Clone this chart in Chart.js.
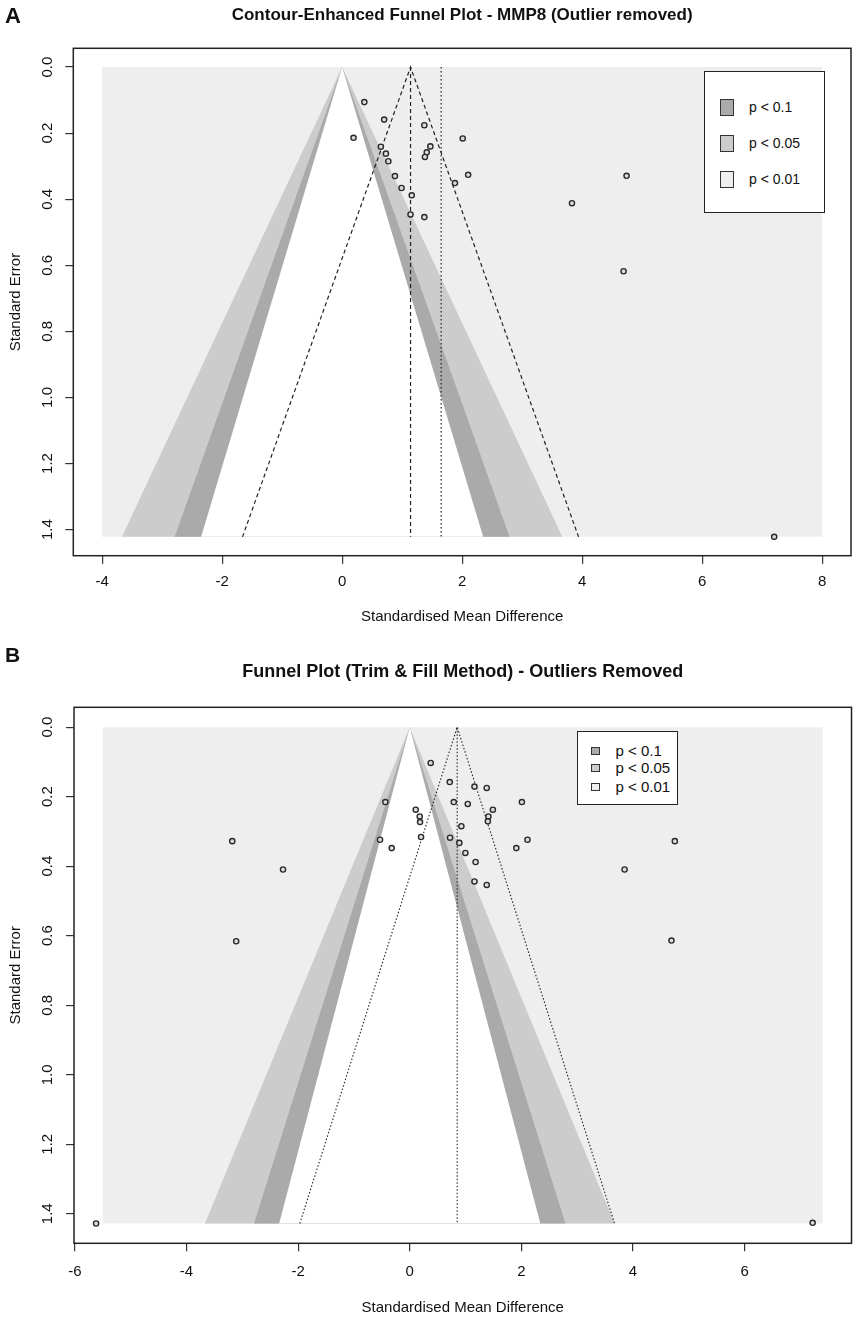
<!DOCTYPE html>
<html>
<head>
<meta charset="utf-8">
<script src="https://cdn.jsdelivr.net/npm/chart.js@4.4.1/dist/chart.umd.min.js"></script>
<style>
  html, body { margin: 0; padding: 0; background: #fff; }
  #page { position: relative; width: 858px; height: 1323px; font-family: "Liberation Sans", Arial, Helvetica, sans-serif; color: #111; }
  .wrap { position: absolute; left: 0; width: 858px; }
  .panel { position: absolute; font-weight: bold; line-height: 1; }
  .legend { position: absolute; box-sizing: border-box; border: 1.5px solid #222; background: #fff; }
  .legend .row { position: absolute; left: 0; right: 0; white-space: nowrap; }
  .legend .sw { position: absolute; box-sizing: border-box; border: 1px solid #333; }
  .legend .lab { position: absolute; }
</style>
</head>
<body>
<div id="page">
  <div class="wrap" style="top:0;height:640px"><canvas id="chartA"></canvas></div>
  <div class="wrap" style="top:640px;height:683px"><canvas id="chartB"></canvas></div>
  <div class="panel" style="left:5px;top:5px;font-size:22px">A</div>
  <div class="panel" style="left:5px;top:644px;font-size:21px">B</div>
  <div class="legend" id="legendA" style="left:704px;top:71px;width:121px;height:142px"></div>
  <div class="legend" id="legendB" style="left:577px;top:731px;width:101px;height:74px"></div>
</div>
<script>
  const family = '"Liberation Sans", Arial, Helvetica, sans-serif';
  Chart.defaults.font.family = family;
  Chart.defaults.color = '#111';

  // shared
  const yTicks = [0, 0.2, 0.4, 0.6, 0.8, 1.0, 1.2, 1.4];
  const yTickLabels = ['0.0', '0.2', '0.4', '0.6', '0.8', '1.0', '1.2', '1.4'];
  const legendLabels = ['p < 0.1', 'p < 0.05', 'p < 0.01'];

  // Panel A - contour enhanced funnel, outlier removed
  const titleA = 'Contour-Enhanced Funnel Plot - MMP8 (Outlier removed)';
  const smdA = [0.37, 0.70, 1.37, 0.19, 2.01, 0.645, 1.47, 1.41, 0.73, 1.38, 0.77,
                0.88, 2.10, 0.99, 1.88, 1.16, 1.14, 1.37, 4.74, 3.83, 4.69, 7.2];
  const seA = [0.106, 0.159, 0.176, 0.214, 0.216, 0.241, 0.240, 0.258, 0.262, 0.272, 0.285,
               0.330, 0.326, 0.366, 0.351, 0.388, 0.446, 0.454, 0.329, 0.412, 0.618, 1.422];
  const xTicksA = [-4, -2, 0, 2, 4, 6, 8];
  const xTickLabelsA = ['-4', '-2', '0', '2', '4', '6', '8'];
  const shadeRangeA = [-4, 8];
  const seMaxA = 1.422;
  const contourEdgesA = [3.67, 2.79, 2.35];   // x of contour edges at seMax (p .01 / .05 / .1)
  const pooledA = 1.14;
  const pooledCiA = [-1.66, 3.94];
  const refLineA = 1.65;

  // Panel B - trim and fill
  const titleB = 'Funnel Plot (Trim & Fill Method) - Outliers Removed';
  const smdB = [0.376, 0.717, 1.16, 1.38, -0.437, 0.789, 1.04, 2.01, 0.107, 1.49, 0.179,
                1.41, 0.185, 1.40, 0.925, -0.532, 0.203, 0.722, 0.889, 2.11, -0.323, 0.997,
                1.91, 1.18, 1.16, 1.38, -3.18, -2.27, -3.11, 4.75, 3.85, 4.69, -5.62, 7.22];
  const seB = [0.103, 0.158, 0.171, 0.175, 0.2155, 0.2155, 0.221, 0.2155, 0.2375, 0.2375, 0.257,
               0.257, 0.273, 0.271, 0.285, 0.324, 0.316, 0.318, 0.333, 0.324, 0.348, 0.362,
               0.348, 0.388, 0.444, 0.454, 0.328, 0.4095, 0.616, 0.328, 0.4095, 0.614, 1.428, 1.426];
  const xTicksB = [-6, -4, -2, 0, 2, 4, 6];
  const xTickLabelsB = ['-6', '-4', '-2', '0', '2', '4', '6'];
  const shadeRangeB = [-5.5, 7.4];
  const seMaxB = 1.428;
  const contourEdgesB = [3.67, 2.79, 2.34];
  const pooledB = 0.85;
  const pooledCiB = [-1.97, 3.67];

  const shades = ['#eeeeee', '#cccccc', '#aaaaaa', '#ffffff'];
  const legendShades = ['#aaaaaa', '#cccccc', '#eeeeee'];

  function pts(xs, ys) {
    return xs.map((x, i) => ({ x: x, y: ys[i] }));
  }

  function regionSets(range, seMax, edges) {
    let sets = [{ data: pts([range[0], range[1], range[1], range[0]], [0, 0, seMax, seMax]) }];
    edges.forEach(e => sets.push({ data: pts([0, e, -e], [0, seMax, seMax]) }));
    return sets.map((s, i) => Object.assign(s, {
      type: 'line', showLine: true, fill: 'shape', backgroundColor: shades[i],
      borderColor: 'rgba(0,0,0,0)', borderWidth: 0, pointRadius: 0, order: 20 - i
    }));
  }

  function lineSet(xs, ys, dash, width) {
    return {
      type: 'line', data: pts(xs, ys), showLine: true, fill: false,
      borderColor: '#222', borderWidth: width, borderDash: dash, pointRadius: 0, order: 5
    };
  }

  function pointSet(xs, ys) {
    return {
      type: 'scatter', data: pts(xs, ys), showLine: false, order: 1,
      pointRadius: 2.6, pointBorderWidth: 1.4,
      pointBackgroundColor: '#dcdcdc', pointBorderColor: '#2a2a2a'
    };
  }

  const framePlugin = {
    id: 'frame',
    afterDatasetsDraw(chart) {
      const { ctx, chartArea: a } = chart;
      ctx.save();
      ctx.strokeStyle = '#222';
      ctx.lineWidth = 1.5;
      ctx.strokeRect(a.left, a.top, a.right - a.left, a.bottom - a.top);
      ctx.restore();
    }
  };

  function makeChart(id, p) {
    const tickGrid = { drawOnChartArea: false, drawTicks: true, tickLength: 8, color: '#333', lineWidth: 1.2 };
    return new Chart(document.getElementById(id), {
      type: 'scatter',
      data: { datasets: p.datasets },
      options: {
        responsive: true,
        maintainAspectRatio: false,
        animation: false,
        layout: { padding: { left: 0, right: p.padRight, top: 0, bottom: 0 } },
        plugins: {
          legend: { display: false },
          tooltip: { enabled: false },
          title: {
            display: true, text: p.title, fullSize: false, color: '#111',
            font: { size: p.titleSize, weight: 'bold' }, padding: p.titlePad
          }
        },
        scales: {
          x: {
            type: 'linear', min: p.xMin, max: p.xMax,
            afterBuildTicks: s => { s.ticks = p.xTicks.map(v => ({ value: v })); },
            afterFit: s => { s.height = p.xHeight; },
            grid: tickGrid,
            border: { display: false },
            ticks: {
              autoSkip: false, maxRotation: 0, minRotation: 0, padding: p.xTickPad,
              font: { size: 15 }, color: '#111',
              callback: (v, i) => p.xLabels[i]
            },
            title: {
              display: true, text: 'Standardised Mean Difference', color: '#111',
              font: { size: 15 }, padding: { top: 0, bottom: p.xTitlePad }
            }
          },
          y: {
            type: 'linear', reverse: true, min: p.yMin, max: p.yMax,
            afterBuildTicks: s => { s.ticks = yTicks.map(v => ({ value: v })); },
            afterFit: s => { s.width = p.yWidth; },
            grid: tickGrid,
            border: { display: false },
            ticks: {
              autoSkip: false, minRotation: 90, maxRotation: 90, crossAlign: 'center',
              padding: p.yTickPad, font: { size: 15 }, color: '#111',
              callback: (v, i) => yTickLabels[i]
            },
            title: {
              display: true, text: 'Standard Error', color: '#111',
              font: { size: 15 }, padding: { top: 7, bottom: 0 }
            }
          }
        }
      },
      plugins: [framePlugin]
    });
  }

  // panel A
  makeChart('chartA', {
    title: titleA, titleSize: 17, titlePad: { top: 5.5, bottom: 22.4 },
    padRight: 7, xMin: -4.48, xMax: 8.48, yMin: -0.0569, yMax: 1.479,
    xTicks: xTicksA, xLabels: xTickLabelsA,
    xHeight: 84.3, xTickPad: 9, xTitlePad: 14.3, yWidth: 73.3, yTickPad: 6.6,
    datasets: [
      ...regionSets(shadeRangeA, seMaxA, contourEdgesA),
      lineSet([pooledCiA[0], pooledA, pooledCiA[1]], [seMaxA, 0, seMaxA], [4, 3], 1.2),
      lineSet([pooledA, pooledA], [0, seMaxA], [4, 3], 1.2),
      lineSet([refLineA, refLineA], [0, seMaxA], [1.5, 2.5], 1.2),
      pointSet(smdA, seA)
    ]
  });

  // panel B
  makeChart('chartB', {
    title: titleB, titleSize: 18, titlePad: { top: 20.9, bottom: 24.8 },
    padRight: 6.5, xMin: -6.016, xMax: 7.916, yMin: -0.0571, yMax: 1.485,
    xTicks: xTicksB, xLabels: xTickLabelsB,
    xHeight: 79.7, xTickPad: 11.4, xTitlePad: 5.7, yWidth: 74, yTickPad: 7.3,
    datasets: [
      ...regionSets(shadeRangeB, seMaxB, contourEdgesB),
      lineSet([pooledCiB[0], pooledB, pooledCiB[1]], [seMaxB, 0, seMaxB], [1.5, 2], 1.1),
      lineSet([pooledB, pooledB], [0, seMaxB], [1.5, 2], 1.1),
      pointSet(smdB, seB)
    ]
  });

  // legends (html boxes drawn over the plot area)
  function buildLegend(id, g) {
    const box = document.getElementById(id);
    legendLabels.forEach((label, i) => {
      const row = document.createElement('div');
      row.className = 'row';
      row.style.top = (g.rows[i] - g.lineH / 2) + 'px';
      row.style.height = g.lineH + 'px';
      const sw = document.createElement('div');
      sw.className = 'sw';
      sw.style.left = g.swLeft + 'px';
      sw.style.top = ((g.lineH - g.swH) / 2) + 'px';
      sw.style.width = g.swW + 'px';
      sw.style.height = g.swH + 'px';
      sw.style.background = legendShades[i];
      const lab = document.createElement('div');
      lab.className = 'lab';
      lab.style.left = g.textLeft + 'px';
      lab.style.top = '0px';
      lab.style.fontSize = g.fontSize + 'px';
      lab.style.lineHeight = g.lineH + 'px';
      lab.textContent = label;
      row.appendChild(sw);
      row.appendChild(lab);
      box.appendChild(row);
    });
  }

  buildLegend('legendA', { rows: [35, 71, 107], lineH: 20, swLeft: 15, swW: 14, swH: 17, textLeft: 44, fontSize: 14 });
  buildLegend('legendB', { rows: [18.5, 36, 55], lineH: 18, swLeft: 13, swW: 9, swH: 8, textLeft: 37.5, fontSize: 15 });
</script>
</body>
</html>
